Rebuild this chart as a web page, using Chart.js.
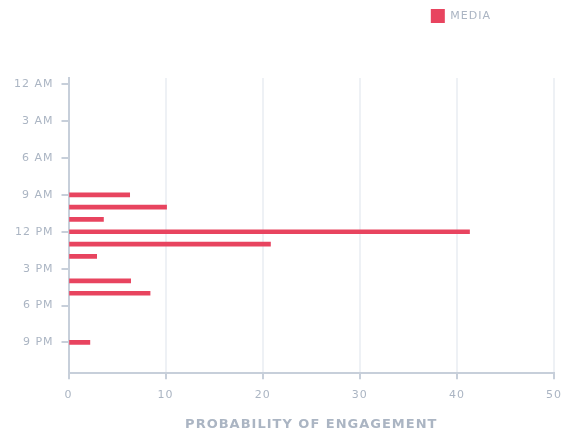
<!DOCTYPE html>
<html>
<head>
<meta charset="utf-8">
<script src="https://cdn.jsdelivr.net/npm/chart.js@4/dist/chart.umd.min.js"></script>
<style>
  html, body { margin: 0; padding: 0; background: #fff; }
  #wrap { width: 572px; height: 432px; }
</style>
</head>
<body>
<div id="wrap"><canvas id="engagementChart"></canvas></div>
<script>
const hours = ['12 AM', '1 AM', '2 AM', '3 AM', '4 AM', '5 AM', '6 AM', '7 AM', '8 AM', '9 AM', '10 AM', '11 AM',
               '12 PM', '1 PM', '2 PM', '3 PM', '4 PM', '5 PM', '6 PM', '7 PM', '8 PM', '9 PM', '10 PM', '11 PM'];
const mediaValues = [null, null, null, null, null, null, null, null, null, 6.3, 10.1, 3.6,
                     41.3, 20.8, 2.9, null, 6.4, 8.4, null, null, null, 2.2, null, null];
const xTicks = [0, 10, 20, 30, 40, 50];

const textColor = '#abb5c3';
const axisColor = '#c7cfda';

// push the legend left, leave room under it, and space the letters out
const legendPlacer = {
    id: 'legendPlacer',
    beforeInit(chart) {
        const fit = chart.legend.fit;
        chart.legend.fit = function () {
            fit.bind(chart.legend)();
            this.height += 45;
        };
    },
    beforeLayout(chart) {
        chart.ctx.letterSpacing = '1px';
    },
    afterLayout(chart) {
        chart.legend.right -= 54;
    },
    beforeDraw(chart) {
        chart.ctx.letterSpacing = '1px';
    }
};

const ctx = document.getElementById('engagementChart').getContext('2d');

const chart = new Chart(ctx, {
    type: 'bar',
    data: {
        labels: hours,
        datasets: [{
            label: 'MEDIA',
            data: mediaValues,
            backgroundColor: '#e8445f',
            borderWidth: 0,
            barThickness: 4
        }]
    },
    plugins: [legendPlacer],
    options: {
        indexAxis: 'y',
        responsive: true,
        maintainAspectRatio: false,
        animation: false,
        layout: { padding: { left: 6, right: 18, top: 0, bottom: 0 } },
        plugins: {
            legend: {
                position: 'top',
                align: 'end',
                labels: {
                    boxWidth: 14,
                    boxHeight: 14,
                    color: textColor,
                    padding: 9,
                    font: { family: 'DejaVu Sans', size: 11 }
                }
            },
            tooltip: { enabled: false }
        },
        scales: {
            y: {
                type: 'category',
                offset: true,
                border: { display: true, color: axisColor, width: 2 },
                grid: {
                    offset: false,
                    drawOnChartArea: false,
                    drawTicks: true,
                    tickLength: 7,
                    color: c => (c.index % 3 === 0 ? axisColor : 'transparent'),
                    lineWidth: 2
                },
                ticks: {
                    autoSkip: false,
                    color: textColor,
                    padding: 8,
                    font: { family: 'DejaVu Sans', size: 11 },
                    callback: function (value, index) {
                        return index % 3 === 0 ? this.getLabelForValue(value) : '';
                    }
                }
            },
            x: {
                min: 0,
                max: 50,
                afterBuildTicks: scale => { scale.ticks = xTicks.map(v => ({ value: v })); },
                border: { display: true, color: axisColor, width: 2 },
                grid: {
                    color: '#eef1f5',
                    lineWidth: 2,
                    tickColor: axisColor,
                    tickLength: 6
                },
                ticks: {
                    color: textColor,
                    padding: 9,
                    font: { family: 'DejaVu Sans', size: 11 }
                },
                title: {
                    display: true,
                    text: 'PROBABILITY OF ENGAGEMENT',
                    color: textColor,
                    padding: { top: 6, bottom: 0 },
                    font: { family: 'DejaVu Sans', size: 13, weight: 'bold' }
                }
            }
        }
    }
});
</script>
</body>
</html>
